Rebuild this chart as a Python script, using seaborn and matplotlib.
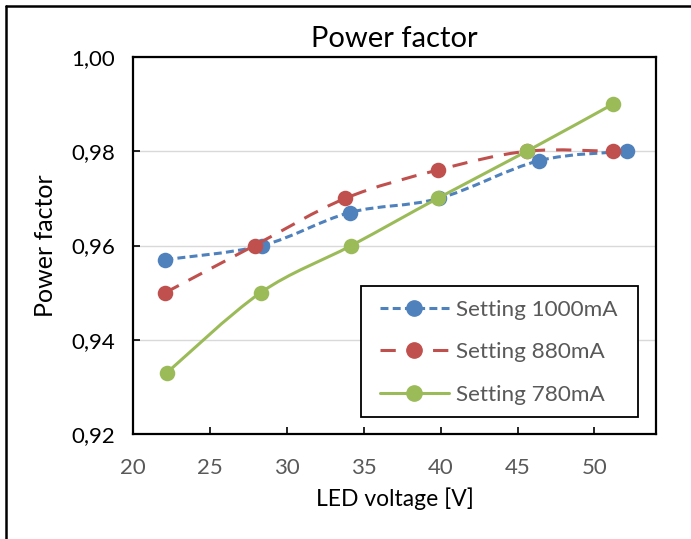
import matplotlib
matplotlib.use("Agg")
import matplotlib.pyplot as plt
from matplotlib.path import Path
from matplotlib.patches import PathPatch, Rectangle
from matplotlib.lines import Line2D
import seaborn as sns
import numpy as np

# data
v_1000 = [22.1, 28.4, 34.1, 39.9, 46.4, 52.1]
pf_1000 = [0.957, 0.960, 0.967, 0.970, 0.978, 0.980]
v_880 = [22.1, 27.9, 33.8, 39.8, 45.6, 51.2]
pf_880 = [0.950, 0.960, 0.970, 0.976, 0.980, 0.980]
v_780 = [22.2, 28.3, 34.2, 39.8, 45.6, 51.2]
pf_780 = [0.933, 0.950, 0.960, 0.970, 0.980, 0.990]
labels = ["Setting 1000mA", "Setting 880mA", "Setting 780mA"]
x_ticks = [20, 25, 30, 35, 40, 45, 50]
y_ticks = [0.92, 0.94, 0.96, 0.98, 1.00]
y_tick_labels = ["0,92", "0,94", "0,96", "0,98", "1,00"]

colors = ["#4F81BD", "#C0504D", "#9BBB59"]
dashes = [(0, (2.6, 1.4)), (0, (5.0, 3.6)), "-"]

sns.set_style("white")
plt.rcParams["font.family"] = ["Lato", "DejaVu Sans"]


def smooth_path(xs, ys):
    # Excel-like smoothed line: cubic bezier through the points
    p = np.column_stack([xs, ys]).astype(float)
    n = len(p)
    verts = [p[0]]
    codes = [Path.MOVETO]
    for i in range(n - 1):
        p0 = p[i - 1] if i > 0 else p[i]
        p3 = p[i + 2] if i + 2 < n else p[i + 1]
        c1 = p[i] + (p[i + 1] - p0) / 6.0
        c2 = p[i + 1] - (p3 - p[i]) / 6.0
        verts += [c1, c2, p[i + 1]]
        codes += [Path.CURVE4] * 3
    return Path(verts, codes)


fig = plt.figure(figsize=(6.91, 5.39), dpi=100)
ax = fig.add_axes([133 / 691, 1 - 434 / 539, (656 - 133) / 691, (434 - 57) / 539])

series = [(v_1000, pf_1000), (v_880, pf_880), (v_780, pf_780)]
handles = []
for k, (xs, ys) in enumerate(series):
    patch = PathPatch(smooth_path(xs, ys), facecolor="none", edgecolor=colors[k],
                      linewidth=2.2, linestyle=dashes[k], zorder=3 + 2 * k,
                      capstyle="butt")
    ax.add_patch(patch)
    sns.scatterplot(x=xs, y=ys, ax=ax, color=colors[k], s=125, edgecolor=colors[k],
                    linewidth=0, zorder=4 + 2 * k, legend=False)
    handles.append(Line2D([], [], color=colors[k], linewidth=2.2, linestyle=dashes[k],
                          marker="o", markersize=11, dash_capstyle="butt"))

ax.set_xlim(20, 54)
ax.set_ylim(0.92, 1.00)
ax.set_xticks(x_ticks)
ax.set_xticklabels([str(t) for t in x_ticks])
ax.set_yticks(y_ticks)
ax.set_yticklabels(y_tick_labels)
ax.grid(axis="y", color="#D9D9D9", linewidth=1.0)
ax.set_axisbelow(True)
for s in ax.spines.values():
    s.set_visible(True)
    s.set_color("black")
    s.set_linewidth(1.6)
ax.tick_params(axis="both", direction="in", length=5, width=1.2, color="black",
               labelsize=16)
ax.tick_params(axis="x", labelcolor="#595959", pad=17, bottom=True)
ax.tick_params(axis="y", labelcolor="black", pad=13, left=True)

ax.set_title("Power factor", fontsize=21, color="black", pad=7)
ax.set_xlabel("LED voltage [V]", fontsize=16.5, color="black", labelpad=7)
ax.set_ylabel("Power factor", fontsize=18, color="black", labelpad=10)

# legend box drawn as its own frame, entries centred inside it
box = Rectangle((0.436, 0.045), 0.9656 - 0.436, 0.3926 - 0.045, transform=ax.transAxes,
                facecolor="white", edgecolor="black", linewidth=1.3, zorder=19)
ax.add_patch(box)
leg = ax.legend(handles, labels, loc="center", bbox_to_anchor=(0.699, 0.2175),
                borderaxespad=0, borderpad=0, frameon=False, fontsize=16.2,
                handlelength=3.1, handletextpad=0.3, labelspacing=1.0,
                labelcolor="#595959")
leg.set_zorder(20)

# outer chart border (top and left visible)
fig.add_artist(Line2D([6 / 691, 1], [1 - 6 / 539, 1 - 6 / 539], color="black",
                      linewidth=1.8, transform=fig.transFigure))
fig.add_artist(Line2D([6 / 691, 6 / 691], [0, 1 - 6 / 539], color="black",
                      linewidth=1.8, transform=fig.transFigure))

fig.savefig("out.png", dpi=100)
